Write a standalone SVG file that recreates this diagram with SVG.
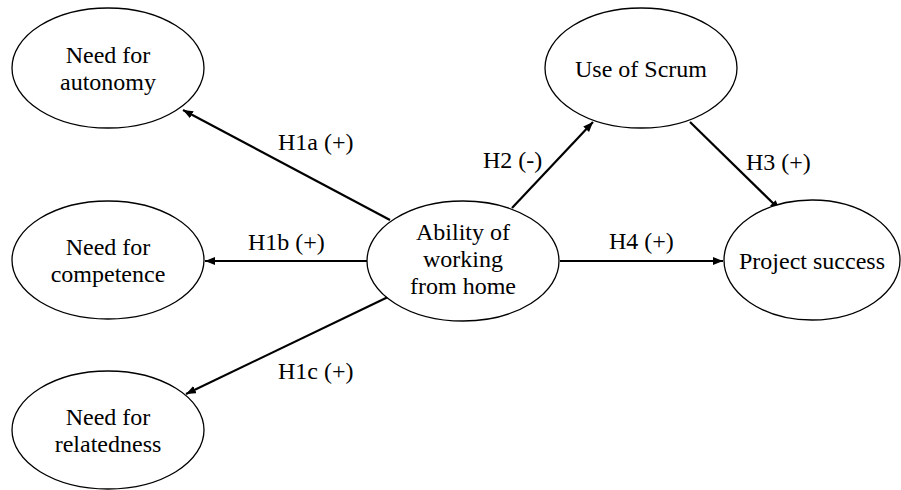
<svg xmlns="http://www.w3.org/2000/svg" width="901" height="490" viewBox="0 0 901 490">
<defs>
<marker id="ah" viewBox="0 0 10 8" refX="10" refY="4" markerWidth="10" markerHeight="8" markerUnits="userSpaceOnUse" orient="auto">
<path d="M0,0 L10,4 L0,8 Z" fill="#000"/>
</marker>
</defs>
<rect width="901" height="490" fill="#fff"/>
<g id="connectors" stroke="#000" stroke-width="2.2" fill="none" marker-end="url(#ah)">
<line x1="390" y1="220" x2="183" y2="110"/>
<line x1="367" y1="261" x2="205" y2="261"/>
<line x1="388" y1="297" x2="186" y2="394"/>
<line x1="512" y1="208" x2="593" y2="122"/>
<line x1="690" y1="122" x2="780" y2="210"/>
<line x1="560" y1="261" x2="723" y2="261"/>
</g>
<g id="labels">
<text x="278" y="150" font-size="24" font-family="Liberation Serif">H1a (+)</text>
<text x="248" y="250" font-size="24" font-family="Liberation Serif">H1b (+)</text>
<text x="278" y="379" font-size="24" font-family="Liberation Serif">H1c (+)</text>
<text x="483" y="168" font-size="24" font-family="Liberation Serif">H2 (-)</text>
<text x="746" y="170" font-size="24" font-family="Liberation Serif">H3 (+)</text>
<text x="609" y="249" font-size="24" font-family="Liberation Serif">H4 (+)</text>
</g>
<g id="autonomy">
<ellipse cx="108" cy="68" rx="96" ry="60" fill="#fff" stroke="#000" stroke-width="1.3"/>
<text x="108" y="63" font-size="24" font-family="Liberation Serif" text-anchor="middle">Need for</text>
<text x="108" y="90" font-size="24" font-family="Liberation Serif" text-anchor="middle">autonomy</text>
</g>
<g id="competence">
<ellipse cx="108" cy="260" rx="96" ry="59" fill="#fff" stroke="#000" stroke-width="1.3"/>
<text x="108" y="255" font-size="24" font-family="Liberation Serif" text-anchor="middle">Need for</text>
<text x="108" y="282" font-size="24" font-family="Liberation Serif" text-anchor="middle">competence</text>
</g>
<g id="relatedness">
<ellipse cx="108" cy="430" rx="96" ry="59" fill="#fff" stroke="#000" stroke-width="1.3"/>
<text x="108" y="425" font-size="24" font-family="Liberation Serif" text-anchor="middle">Need for</text>
<text x="108" y="452" font-size="24" font-family="Liberation Serif" text-anchor="middle">relatedness</text>
</g>
<g id="ability">
<ellipse cx="463" cy="261" rx="96" ry="60" fill="#fff" stroke="#000" stroke-width="1.3"/>
<text x="463" y="240" font-size="24" font-family="Liberation Serif" text-anchor="middle">Ability of</text>
<text x="463" y="267" font-size="24" font-family="Liberation Serif" text-anchor="middle">working</text>
<text x="463" y="294" font-size="24" font-family="Liberation Serif" text-anchor="middle">from home</text>
</g>
<g id="scrum">
<ellipse cx="641" cy="68" rx="96" ry="60" fill="#fff" stroke="#000" stroke-width="1.3"/>
<text x="641" y="77" font-size="24" font-family="Liberation Serif" text-anchor="middle">Use of Scrum</text>
</g>
<g id="success">
<ellipse cx="812" cy="260" rx="88" ry="60" fill="#fff" stroke="#000" stroke-width="1.3"/>
<text x="812" y="269" font-size="24" font-family="Liberation Serif" text-anchor="middle">Project success</text>
</g>
</svg>
